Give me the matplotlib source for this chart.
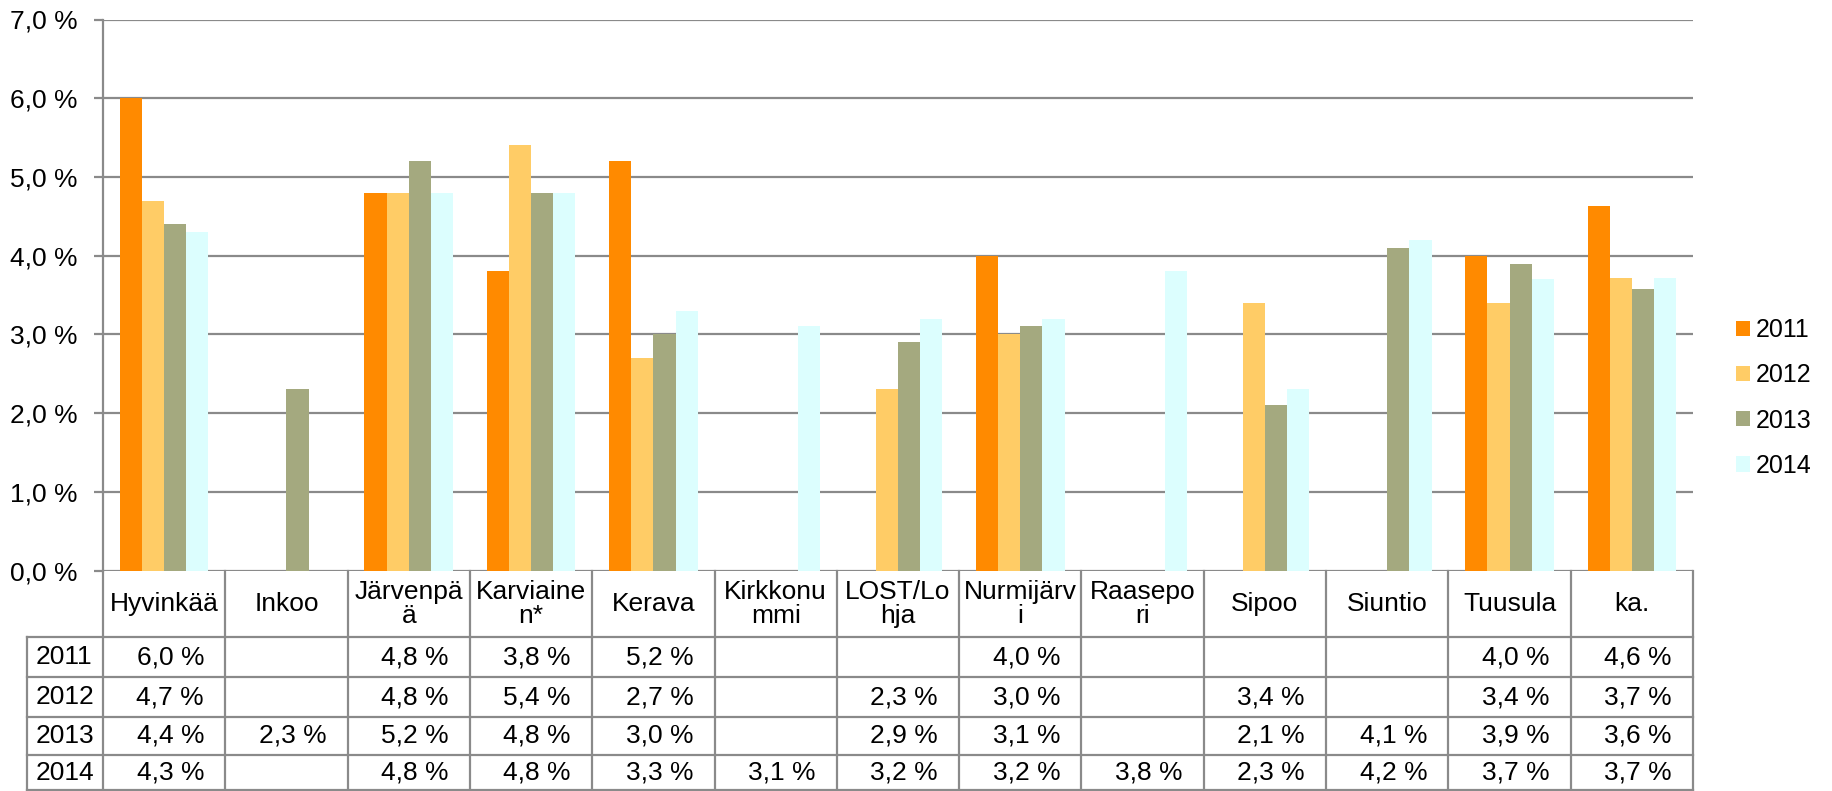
import numpy as np
import matplotlib
matplotlib.use("Agg")
import matplotlib.pyplot as plt
from matplotlib.ticker import FuncFormatter, MultipleLocator
from matplotlib.patches import Patch

plt.rcParams['font.family'] = ['Liberation Sans', 'DejaVu Sans']

categories = ["Hyvinkää", "Inkoo", "Järvenpä\nä", "Karviaine\nn*", "Kerava",
              "Kirkkonu\nmmi", "LOST/Lo\nhja", "Nurmijärv\ni", "Raasepo\nri",
              "Sipoo", "Siuntio", "Tuusula", "ka."]
years = ["2011", "2012", "2013", "2014"]
nan = np.nan
v2011 = [6.0, nan, 4.8, 3.8, 5.2, nan, nan, 4.0, nan, nan, nan, 4.0, 4.63]
v2012 = [4.7, nan, 4.8, 5.4, 2.7, nan, 2.3, 3.0, nan, 3.4, nan, 3.4, 3.72]
v2013 = [4.4, 2.3, 5.2, 4.8, 3.0, nan, 2.9, 3.1, nan, 2.1, 4.1, 3.9, 3.58]
v2014 = [4.3, nan, 4.8, 4.8, 3.3, 3.1, 3.2, 3.2, 3.8, 2.3, 4.2, 3.7, 3.71]
series = [v2011, v2012, v2013, v2014]
colors = ["#FF8A00", "#FFCC66", "#A4A97F", "#DCFEFE"]

W, H = 1833, 791
fig = plt.figure(figsize=(W / 100, H / 100), dpi=100)
x0, x1 = 103, 1693
ytop, ybot = 19.5, 570.5
ax = fig.add_axes([x0 / W, (H - ybot) / H, (x1 - x0) / W, (ybot - ytop) / H])

n = len(categories)
x = np.arange(n)
bw = 0.181
for i, (vals, c) in enumerate(zip(series, colors)):
    ax.bar(x + (i - 1.5) * bw, vals, width=bw, color=c, edgecolor='none', zorder=3)

ax.set_xlim(-0.5, n - 0.5)
ax.set_ylim(0, 7)
ax.yaxis.set_major_locator(MultipleLocator(1))
ax.yaxis.set_major_formatter(FuncFormatter(lambda v, p: f"{v:.1f} %".replace('.', ',')))
ax.grid(axis='y', color='#8A8A8A', linewidth=1.6, zorder=0)
ax.set_xticks([])
for s in ['top', 'right', 'bottom']:
    ax.spines[s].set_visible(False)
ax.spines['left'].set_color('#8A8A8A')
ax.spines['left'].set_linewidth(1.6)
ax.tick_params(axis='y', length=6.5, width=1.6, color='#8A8A8A', labelsize=19, pad=11.5)

# legend
handles = [Patch(facecolor=c, edgecolor='none') for c in colors]
fig.legend(handles, years, loc='center left', bbox_to_anchor=(1736 / W, (H - 398) / H),
           frameon=False, fontsize=18, handlelength=0.56, handleheight=0.56,
           handletextpad=0.25, labelspacing=0.85, borderpad=0, borderaxespad=0)

# data table
tax = fig.add_axes([x0 / W, 0, (x1 - x0) / W, (H - ybot) / H])
tax.set_xlim(-0.5, n - 0.5)
tax.set_ylim(H, ybot)
tax.axis('off')
colw = (x1 - x0) / n
xl = -0.5 - (x0 - 27) / colw
rows_y = [637, 677, 717, 755, 790]
lc = '#8A8A8A'
lw = 1.6
for k in range(n + 1):
    tax.plot([k - 0.5, k - 0.5], [ybot, rows_y[-1]], color=lc, lw=lw, clip_on=False)
tax.plot([xl, xl], [rows_y[0], rows_y[-1]], color=lc, lw=lw, clip_on=False)
for yy in rows_y:
    tax.plot([xl, n - 0.5], [yy, yy], color=lc, lw=lw, clip_on=False)

for j, cat in enumerate(categories):
    tax.text(j, (ybot + rows_y[0]) / 2, cat, ha='center', va='center', fontsize=19,
             linespacing=1.0, clip_on=False)
for r, (yr, vals) in enumerate(zip(years, series)):
    yc = (rows_y[r] + rows_y[r + 1]) / 2
    tax.text(xl + 0.07, yc, yr, ha='left', va='center', fontsize=19, clip_on=False)
    for j, v in enumerate(vals):
        if not np.isnan(v):
            tax.text(j + 0.05, yc, f"{v:.1f} %".replace('.', ','), ha='center', va='center',
                     fontsize=19, clip_on=False)

fig.savefig("out.png", dpi=100)
